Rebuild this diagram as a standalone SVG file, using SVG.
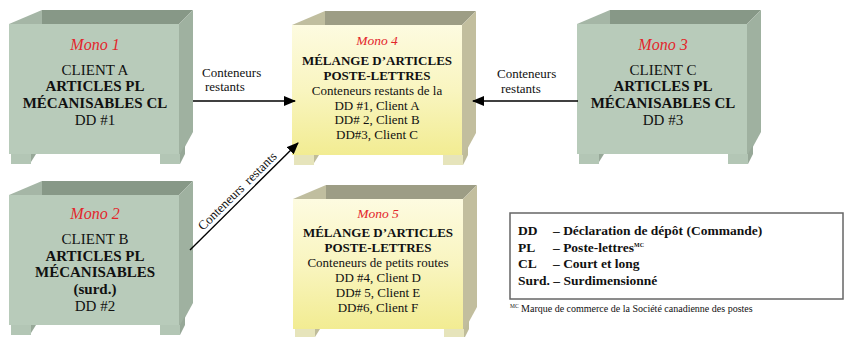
<svg xmlns="http://www.w3.org/2000/svg" width="849" height="337" viewBox="0 0 849 337">
<defs>
  <linearGradient id="yel" x1="0" y1="0" x2="0" y2="1">
    <stop offset="0" stop-color="#fdfbe0"/>
    <stop offset="0.5" stop-color="#f9f5c0"/>
    <stop offset="1" stop-color="#f2ec92"/>
  </linearGradient>
  <marker id="arr" markerWidth="12" markerHeight="10" refX="11" refY="5" orient="auto" markerUnits="userSpaceOnUse">
    <path d="M0,0 L12,5 L0,10 Z" fill="#000"/>
  </marker>
  <g id="boxShape">
    <polygon class="back" points="33,-14 184,-14 170,0 33,0"/>
    <polygon class="inner" points="0,0 33,-14 33,0"/>
    <polygon class="side" points="170,0 184,-14 184,108 172,130 170,130"/>
    <rect class="front" x="0" y="0" width="170" height="130"/>
    <rect class="foot" x="2" y="130" width="20" height="10"/>
    <polygon class="footside" points="22,130 27,130 22,138"/>
    <rect class="foot" x="151" y="130" width="20" height="10"/>
    <polygon class="footside" points="171,130 176,121 176,130 171,140"/>
  </g>
</defs>
<style>
  .green{--front:#b8cbba;--side:#9fb1a0;--back:#879887;--inner:#a5b6a6;--foot:#b3c6b5;--footside:#97a898}
  .yellow{--front:url(#yel);--side:#c2be9e;--back:#9d9d85;--inner:#c0be9f;--foot:#e6e4bb;--footside:#bfbc9a}
  .front{fill:var(--front)}
  .side{fill:var(--side)}
  .back{fill:var(--back)}
  .inner{fill:var(--inner)}
  .foot{fill:var(--foot)}
  .footside{fill:var(--footside)}
  text{font-family:"Liberation Serif","Times New Roman",serif;fill:#111}
  .mono{font-style:italic;fill:#e3262b}
  .c{text-anchor:middle}
  .b{font-weight:bold}
  .t15{font-size:15px}
  .t13{font-size:13px}
  .lg{font-size:13.5px;font-weight:bold}
  .conn line{stroke:#000;stroke-width:1.4;fill:none}
</style>

<g id="mono1" class="green">
  <use href="#boxShape" transform="translate(9,24)"/>
  <text class="mono c" x="95" y="50" font-size="16">Mono 1</text>
  <text class="c t15" x="95" y="75">CLIENT A</text>
  <text class="c t15 b" x="95" y="91">ARTICLES PL</text>
  <text class="c t15 b" x="95" y="108">MÉCANISABLES CL</text>
  <text class="c t15" x="95" y="125">DD #1</text>
</g>

<g id="mono2" class="green">
  <use href="#boxShape" transform="translate(9,195)"/>
  <text class="mono c" x="95" y="219" font-size="16">Mono 2</text>
  <text class="c t15" x="95" y="244">CLIENT B</text>
  <text class="c t15 b" x="95" y="261">ARTICLES PL</text>
  <text class="c t15 b" x="95" y="277">MÉCANISABLES</text>
  <text class="c t15 b" x="95" y="294">(surd.)</text>
  <text class="c t15" x="95" y="311">DD #2</text>
</g>

<g id="mono3" class="green">
  <use href="#boxShape" transform="translate(577,24)"/>
  <text class="mono c" x="663" y="50" font-size="16">Mono 3</text>
  <text class="c t15" x="663" y="75">CLIENT C</text>
  <text class="c t15 b" x="663" y="91">ARTICLES PL</text>
  <text class="c t15 b" x="663" y="108">MÉCANISABLES CL</text>
  <text class="c t15" x="663" y="125">DD #3</text>
</g>

<g id="mono4" class="yellow">
  <use href="#boxShape" transform="translate(292,25)"/>
  <text class="mono c" x="377" y="45" font-size="13.5">Mono 4</text>
  <text class="c t13 b" x="377" y="65">MÉLANGE D’ARTICLES</text>
  <text class="c t13 b" x="377" y="80">POSTE-LETTRES</text>
  <text class="c t13" x="377" y="95">Conteneurs restants de la</text>
  <text class="c t13" x="377" y="110">DD #1, Client A</text>
  <text class="c t13" x="377" y="124">DD# 2, Client B</text>
  <text class="c t13" x="377" y="139">DD#3, Client C</text>
</g>

<g id="mono5" class="yellow">
  <use href="#boxShape" transform="translate(293,199)"/>
  <text class="mono c" x="378" y="218" font-size="13.5">Mono 5</text>
  <text class="c t13 b" x="378" y="237">MÉLANGE D’ARTICLES</text>
  <text class="c t13 b" x="378" y="252">POSTE-LETTRES</text>
  <text class="c t13" x="378" y="267">Conteneurs de petits routes</text>
  <text class="c t13" x="378" y="282">DD #4, Client D</text>
  <text class="c t13" x="378" y="297">DD# 5, Client E</text>
  <text class="c t13" x="378" y="312">DD#6, Client F</text>
</g>

<g id="connectors" class="conn">
  <line x1="193" y1="101" x2="295" y2="101" marker-end="url(#arr)"/>
  <line x1="578" y1="101" x2="473" y2="101" marker-end="url(#arr)"/>
  <line x1="190" y1="250" x2="298" y2="143" marker-end="url(#arr)"/>
  <text class="t13" x="202" y="77">Conteneurs</text>
  <text class="t13" x="205" y="91">restants</text>
  <text class="t13" x="497" y="78">Conteneurs</text>
  <text class="t13" x="501" y="93">restants</text>
  <text class="t13" transform="translate(203,231) rotate(-44.7)">Conteneurs<tspan dx="6">restants</tspan></text>
</g>

<g id="legend">
  <rect x="510" y="213" width="333" height="86" fill="#fff" stroke="#666" stroke-width="1.5"/>
  <text class="lg" x="518" y="235">DD</text>
  <text class="lg" x="553" y="235">– Déclaration de dépôt (Commande)</text>
  <text class="lg" x="518" y="252">PL</text>
  <text class="lg" x="553" y="252">– Poste-lettres<tspan font-size="6" dy="-5">MC</tspan></text>
  <text class="lg" x="518" y="268">CL</text>
  <text class="lg" x="553" y="268">– Court et long</text>
  <text class="lg" x="518" y="285">Surd. – Surdimensionné</text>
  <text x="510" y="312" font-size="10"><tspan font-size="5.5" dy="-4">MC</tspan><tspan dy="4"> Marque de commerce de la Société canadienne des postes</tspan></text>
</g>
</svg>
